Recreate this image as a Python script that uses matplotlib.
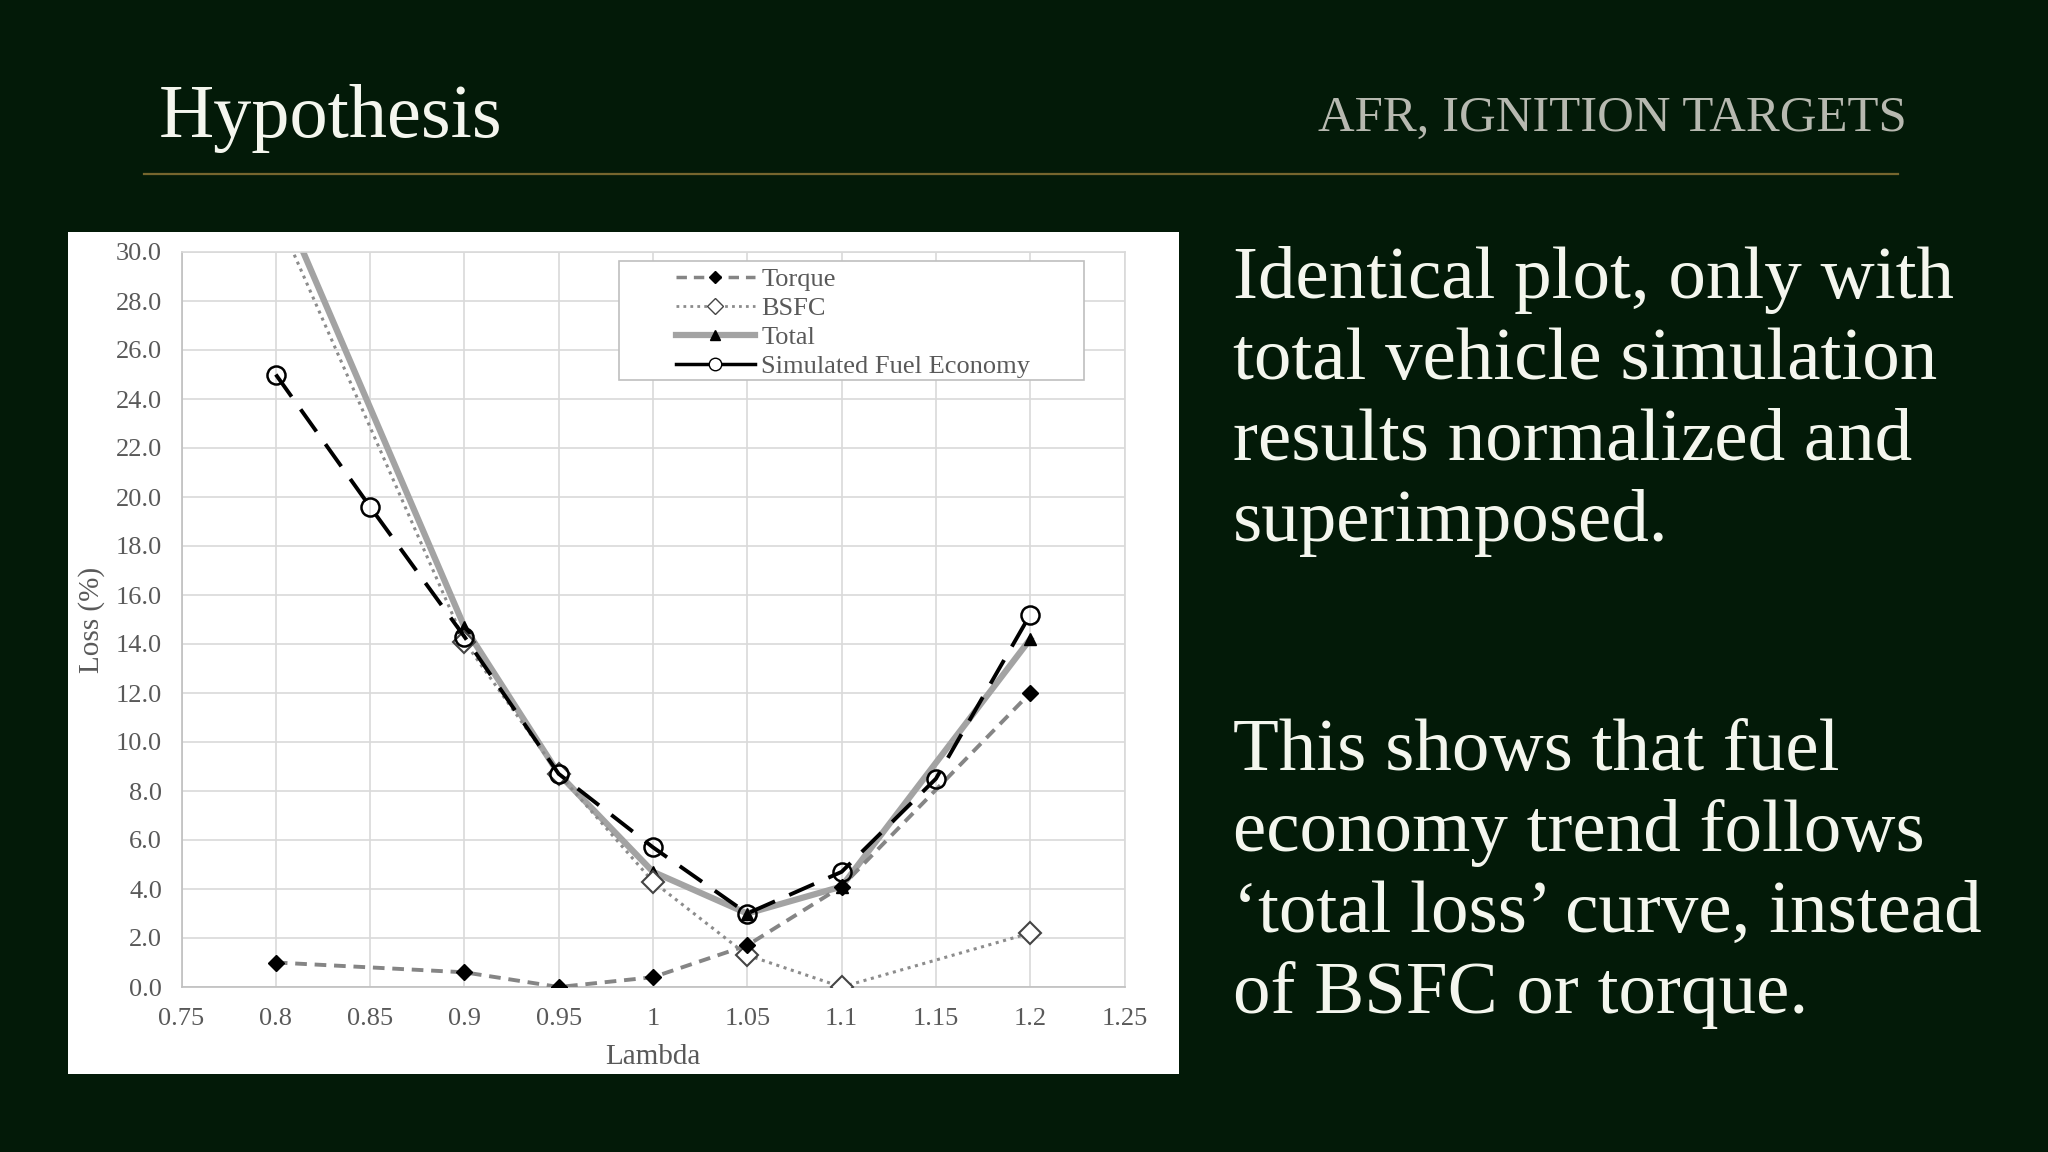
import matplotlib
matplotlib.use("Agg")
import matplotlib.pyplot as plt
from matplotlib.patches import Rectangle
from matplotlib.lines import Line2D

plt.rcParams['font.family'] = ['Liberation Serif', 'DejaVu Serif']

# ---- data ----
lambda_main = [0.8, 0.9, 0.95, 1.0, 1.05, 1.1, 1.2]
torque = [1.0, 0.6, 0.0, 0.4, 1.7, 4.1, 12.0]
bsfc = [31.6, 14.1, 8.7, 4.3, 1.3, 0.0, 2.2]
total = [32.6, 14.7, 8.7, 4.7, 3.0, 4.1, 14.2]
lambda_fe = [0.8, 0.85, 0.9, 0.95, 1.0, 1.05, 1.1, 1.15, 1.2]
sim_fe = [25.0, 19.6, 14.3, 8.7, 5.7, 3.0, 4.7, 8.5, 15.2]
x_ticks = [0.75, 0.8, 0.85, 0.9, 0.95, 1.0, 1.05, 1.1, 1.15, 1.2, 1.25]
x_tick_labels = ["0.75", "0.8", "0.85", "0.9", "0.95", "1", "1.05", "1.1", "1.15", "1.2", "1.25"]
y_ticks = [0, 2, 4, 6, 8, 10, 12, 14, 16, 18, 20, 22, 24, 26, 28, 30]
series_names = ["Torque", "BSFC", "Total", "Simulated Fuel Economy"]

W, H = 2048, 1152
BG = '#031a08'
fig = plt.figure(figsize=(W / 100, H / 100), dpi=100, facecolor=BG)


def fx(px):
    return px / W


def fy(py):
    return 1 - py / H


# header
fig.text(fx(159), fy(137), "Hypothesis", fontsize=55, color='#f4f6ee', ha='left', va='baseline')
fig.text(fx(1907), fy(131), "AFR, IGNITION TARGETS", fontsize=36.5, color='#b7b9b0', ha='right', va='baseline')
fig.add_artist(Line2D([fx(144), fx(1898)], [fy(174), fy(174)], transform=fig.transFigure,
                      color='#76662e', linewidth=1.6))

# white chart panel
fig.add_artist(Rectangle((fx(68), fy(1074)), (1179 - 68) / W, (1074 - 232) / H,
                         transform=fig.transFigure, facecolor='white', edgecolor='none', zorder=0))

ax = fig.add_axes([fx(181.5), fy(987), (1124.5 - 181.5) / W, (987 - 252) / H])
ax.set_facecolor('white')
ax.set_xlim(0.75, 1.25)
ax.set_ylim(0, 30)
ax.set_xticks(x_ticks)
ax.set_xticklabels(x_tick_labels)
ax.set_yticks(y_ticks)
ax.set_yticklabels([f"{v:.1f}" for v in y_ticks])
ax.tick_params(length=0, labelsize=19, labelcolor='#595959')
ax.tick_params(axis='y', pad=14)
ax.tick_params(axis='x', pad=15)
ax.grid(True, color='#d9d9d9', linewidth=1.2)
ax.set_axisbelow(True)
for s in ax.spines.values():
    s.set_color('#d9d9d9')
    s.set_linewidth(1.2)
ax.spines['bottom'].set_color('#bfbfbf')
ax.spines['left'].set_color('#bfbfbf')

ax.plot(lambda_main, total, color='#a3a3a3', linewidth=4.5, marker='^', markersize=8,
        markerfacecolor='black', markeredgecolor='black', zorder=2)
ax.plot(lambda_main, bsfc, color='#8c8c8c', linewidth=2.2, linestyle=(0, (1, 1.5)), marker='D',
        markersize=11, markerfacecolor='white', markeredgecolor='#444444', markeredgewidth=1.5, zorder=3)
ax.plot(lambda_main, torque, color='#858585', linewidth=2.8, linestyle=(0, (3, 2)), marker='D',
        markersize=8, markerfacecolor='black', markeredgecolor='black', zorder=4)
ax.plot(lambda_fe, sim_fe, color='black', linewidth=2.8, linestyle=(0, (7, 4)), marker='o',
        markersize=13, markerfacecolor='none', markeredgecolor='black', markeredgewidth=1.8, zorder=5)

ax.set_xlabel("Lambda", fontsize=21, color='#595959', labelpad=10)
ax.set_ylabel("Loss (%)", fontsize=21, color='#595959', labelpad=8)

# legend frame (drawn separately, wider than the entries as in the reference)
ax.add_patch(Rectangle((0.464, 0.826), 0.493, 0.162, transform=ax.transAxes, facecolor='white',
                       edgecolor='#bfbfbf', linewidth=1.2, zorder=6))

handles = [
    Line2D([], [], color='#858585', linewidth=2.5, linestyle=(0, (3, 2)), marker='D', markersize=6,
           markerfacecolor='black', markeredgecolor='black'),
    Line2D([], [], color='#8c8c8c', linewidth=2, linestyle=(0, (1, 1.5)), marker='D', markersize=8,
           markerfacecolor='white', markeredgecolor='#444444'),
    Line2D([], [], color='#a3a3a3', linewidth=4.5, marker='^', markersize=7,
           markerfacecolor='black', markeredgecolor='black'),
    Line2D([], [], color='black', linewidth=2.5, marker='o', markersize=9,
           markerfacecolor='white', markeredgecolor='black'),
]
leg = ax.legend(handles, series_names, loc='upper left', bbox_to_anchor=(0.524, 0.979),
                fontsize=19, frameon=False, handlelength=3.0, handletextpad=0.25,
                labelspacing=0.21, borderpad=0, borderaxespad=0)
leg.set_zorder(7)
for t in leg.get_texts():
    t.set_color('#595959')

# right-hand text
para1 = ["Identical plot, only with", "total vehicle simulation", "results normalized and", "superimposed."]
para2 = ["This shows that fuel", "economy trend follows", "\u2018total loss\u2019 curve, instead", "of BSFC or torque."]
for i, line in enumerate(para1):
    fig.text(fx(1233), fy(298 + 81 * i), line, fontsize=54, color='#f4f6ee', ha='left', va='baseline')
for i, line in enumerate(para2):
    fig.text(fx(1233), fy(770 + 81 * i), line, fontsize=54, color='#f4f6ee', ha='left', va='baseline')

fig.savefig("out.png", dpi=100, facecolor=BG)
